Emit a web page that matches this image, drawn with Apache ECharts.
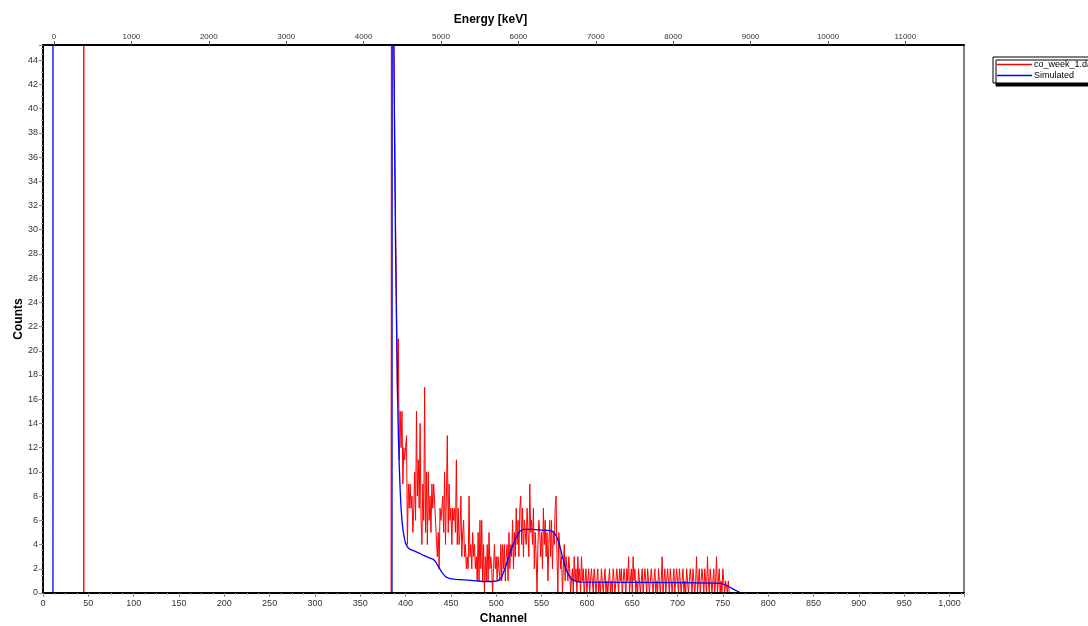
<!DOCTYPE html>
<html>
<head>
<meta charset="utf-8">
<script src="https://cdn.jsdelivr.net/npm/echarts@6/dist/echarts.min.js"></script>
<style>html,body{margin:0;padding:0;background:#fff;}#c{width:1088px;height:626px;}</style>
</head>
<body>
<div id="c"></div>
<script>
// ---- data ----
const channelRange = [0, 1016];
const energyRange = [-142, 11757];
const energyTicks = [0, 1000, 2000, 3000, 4000, 5000, 6000, 7000, 8000, 9000, 10000, 11000];
const countRange = [0, 45.25];

// measured spectrum: isolated spike + counts from channel redStart onward
const redSpikeChannel = 45;
const redSpikeCount = 400;
const redStart = 386;
const redCounts = [
 300,46,38,30,24,16,21,11,15,12,15,9,12,11,12,13,4,9,7,9,
 7,8,5,7,10,6,15,8,11,7,14,6,4,9,6,17,5,10,4,10,
 6,8,5,9,7,9,9,6,6,3,5,2,7,6,6,8,5,10,4,8,
 13,5,9,6,7,4,7,6,7,5,11,4,7,4,5,8,3,5,6,3,
 4,2,3,2,8,3,4,2,5,3,4,2,3,1,5,1,6,2,6,1,
 4,0,3,1,4,1,5,2,3,2,0,2,4,2,3,1,3,2,1,4,
 1,4,2,4,1,3,4,1,5,2,4,3,6,2,5,3,7,4,6,3,
 7,8,4,7,3,6,5,4,7,5,3,9,5,6,4,7,2,5,3,0,
 4,6,5,3,5,2,7,4,6,3,5,1,4,6,3,6,2,5,4,7,
 8,3,0,5,4,2,3,0,2,4,1,3,2,1,3,2,0,1,2,0,
 3,1,2,0,3,1,2,0,3,1,2,0,1,2,0,1,2,0,1,2,
 1,0,2,1,0,1,2,0,1,0,2,1,0,1,2,0,1,0,1,2,
 0,1,0,2,1,0,1,2,1,0,2,1,2,0,1,2,1,0,2,1,
 3,0,1,2,0,3,1,2,0,1,0,2,1,0,1,2,0,1,2,1,
 0,2,1,0,1,2,1,0,1,2,0,1,0,2,1,0,1,3,0,1,
 2,0,1,2,1,0,2,1,0,1,2,0,1,2,1,0,2,1,0,1,
 2,0,1,0,2,1,0,1,2,1,0,2,1,0,1,3,0,1,2,0,
 1,2,1,0,2,1,0,3,1,0,2,1,0,1,2,0,1,3,0,1,
 2,0,1,0,2,1,0,1,1,0,1,0
];

// simulated spectrum (read at selected channels)
const blueChannels = [0,11,11,11,385,386,386,387,388,389,390,391,392,393,394,395,396,397,398,399,400,402,405,410,415,420,425,430,433,436,440,444,448,455,465,475,485,495,502,506,510,514,518,522,526,530,540,550,560,564,567,570,573,576,579,583,588,595,650,700,740,748,755,762,770,1016];
const blueCounts   = [0,0,400,0,0,0,200,46,36,28,22,17,13,10.5,8.5,7,6,5.3,4.8,4.4,4.1,3.8,3.6,3.45,3.3,3.1,2.95,2.8,2.6,2.2,1.7,1.35,1.2,1.12,1.08,1.02,0.95,0.95,1.0,1.3,2.1,3.0,3.9,4.6,5.1,5.25,5.25,5.2,5.15,5.0,4.6,3.9,3.0,2.2,1.6,1.15,0.95,0.9,0.88,0.85,0.82,0.8,0.6,0.3,0,0];

const seriesNames = ['co_week_1.dat', 'Simulated'];
const seriesColors = ['#ff0000', '#0000ff'];

// ---- build series data ----
const redData = [];
for (let ch = channelRange[0]; ch <= channelRange[1]; ch++) {
  const i = ch - redStart;
  if (ch === redSpikeChannel) {
    redData.push([ch, 0], [ch, redSpikeCount], [ch, 0]);
  } else if (i === 0) {
    redData.push([ch, 0], [ch, redCounts[0]]);
  } else if (i > 0 && i < redCounts.length) {
    redData.push([ch, redCounts[i]]);
  } else {
    redData.push([ch, 0]);
  }
}
const blueData = blueChannels.map((c, i) => [c, blueCounts[i]]);

const chart = echarts.init(document.getElementById('c'), null, {renderer: 'canvas'});
const font = 'Liberation Sans, Arial, sans-serif';
chart.setOption({
  animation: false,
  backgroundColor: '#fff',
  grid: {left: 43, right: 124, top: 45, bottom: 33, containLabel: false, outerBoundsMode: 'none',
         show: true, borderColor: '#000', borderWidth: 1, backgroundColor: 'transparent'},
  legend: {
    orient: 'vertical', left: 993, top: 57,
    data: seriesNames.map((n, i) => ({name: n, itemStyle: {color: seriesColors[i]}})),
    backgroundColor: '#fff', borderColor: '#000', borderWidth: 1,
    shadowColor: '#000', shadowOffsetX: 3, shadowOffsetY: 3, shadowBlur: 0,
    padding: [3, 40, 3, 4], itemGap: 2, itemWidth: 35, itemHeight: 1.5,
    icon: 'rect',
    textStyle: {fontFamily: font, fontSize: 9, color: '#000', padding: [0, 0, 0, -3], lineHeight: 9}
  },
  xAxis: [{
    type: 'value', position: 'bottom', min: channelRange[0], max: channelRange[1], interval: 50, z: 10,
    name: 'Channel', nameLocation: 'middle', nameGap: 20, nameMoveOverlap: false,
    nameTextStyle: {fontFamily: font, fontSize: 12, fontWeight: 'bold', color: '#000'},
    axisLine: {lineStyle: {color: '#000', width: 2}},
    axisTick: {show: true, length: 4, lineStyle: {color: '#888'}},
    minorTick: {show: true, splitNumber: 4, length: 2, lineStyle: {color: '#aaa'}},
    axisLabel: {fontFamily: font, fontSize: 9, color: '#333', margin: 6, showMaxLabel: false,
      formatter: v => v.toLocaleString('en-US')},
    splitLine: {show: false}
  }, {
    type: 'value', position: 'top', min: energyRange[0], max: energyRange[1], z: 10,
    name: 'Energy [keV]', nameLocation: 'middle', nameGap: 19, nameMoveOverlap: false,
    nameTextStyle: {fontFamily: font, fontSize: 12, fontWeight: 'bold', color: '#000', padding: [0, 26, 0, 0]},
    axisLine: {lineStyle: {color: '#000', width: 2}},
    axisTick: {show: true, length: 4, lineStyle: {color: '#555'}, customValues: energyTicks},
    axisLabel: {fontFamily: font, fontSize: 8, color: '#333', margin: 4, customValues: energyTicks,
      formatter: v => String(v)},
    splitLine: {show: false}
  }],
  yAxis: {
    type: 'value', min: countRange[0], max: countRange[1], interval: 2, z: 10,
    name: 'Counts', nameLocation: 'middle', nameGap: 18, nameMoveOverlap: false,
    nameTextStyle: {fontFamily: font, fontSize: 12, fontWeight: 'bold', color: '#000'},
    axisLine: {show: true, lineStyle: {color: '#000', width: 2}},
    axisTick: {show: true, length: 4, lineStyle: {color: '#888'}},
    minorTick: {show: true, splitNumber: 4, length: 2, lineStyle: {color: '#aaa'}},
    axisLabel: {fontFamily: font, fontSize: 9, color: '#333', margin: 5, showMaxLabel: false},
    splitLine: {show: false}
  },
  series: [{
    name: seriesNames[0], type: 'line', data: redData, xAxisIndex: 0, showSymbol: false, symbol: 'none',
    lineStyle: {color: seriesColors[0], width: 1}, itemStyle: {color: seriesColors[0]}, clip: true
  }, {
    name: seriesNames[1], type: 'line', data: blueData, xAxisIndex: 0, showSymbol: false, symbol: 'none',
    lineStyle: {color: seriesColors[1], width: 1.3}, itemStyle: {color: seriesColors[1]}, clip: true
  }]
});
</script>
</body>
</html>
